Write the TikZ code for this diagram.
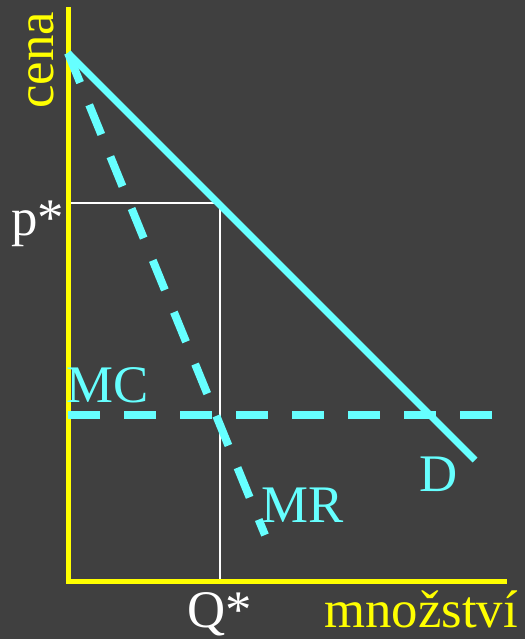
\documentclass[tikz,border=0pt]{standalone}
\usepackage{fontspec}
\setmainfont{Liberation Serif}
\usepackage{tikz}
\usetikzlibrary{
    positioning,
    calc
}
\definecolor{SlateBg}{RGB}{64,64,64}
\definecolor{AxisYellow}{RGB}{255,255,0}
\definecolor{CurveCyan}{RGB}{102,255,255}

\begin{document}
\begin{tikzpicture}[
    x=1bp,
    y=-1bp,
%
    axis/.style={
        draw=AxisYellow,
        line width=5bp
    },
%
    curve/.style={
        draw=CurveCyan,
        line width=7bp
    },
%
    dashcurve/.style={
        draw=CurveCyan,
        line width=8bp,
        dash pattern=on 32bp off 24bp
    },
%
    guide/.style={
        draw=white,
        line width=2bp
    },
%
    lbl/.style={
        inner sep=0pt,
        anchor=base west,
        font=\fontsize{53}{60}\selectfont
    }
]
%
% Canvas: dark background fixes the page size.
%
\fill[SlateBg] (0,0) rectangle (525,639);
\useasboundingbox (0,0) rectangle (525,639);
%
% Key points of the diagram.
%
\coordinate (orig) at (68,581);
\coordinate (ytop) at (68,7);
\coordinate (xend) at (507,581);
\coordinate (dtop) at (68,53);
\coordinate (dend) at (475,460);
\coordinate (mrend) at (265,535);
\coordinate (mcstart) at (68,415);
\coordinate (mcend) at (492,415);
\coordinate (pstar) at (68,203);
\coordinate (opt) at (220,203);
\coordinate (qstar) at (220,581);
%
% Price and quantity guides.
%
\draw[guide] (pstar) -- (opt) -- (qstar);
%
% Axes.
%
\draw[axis] (ytop) -- (orig) -- (xend);
%
% Demand, marginal revenue and marginal cost.
%
\draw[curve] (dtop) -- (dend);
\draw[dashcurve] (dtop) -- (mrend);
\draw[dashcurve] (mcstart) -- (mcend);
%
% Labels.
%
\node[
    lbl,
    text=AxisYellow,
    rotate=90
] (cena) at (53,109) {cena};
\node[
    lbl,
    text=AxisYellow
] (mnoz) at (324,627) {množství};
\node[
    lbl,
    text=white
] (plbl) at (11,235) {p*};
\node[
    lbl,
    text=white
] (qlbl) at (187,627) {Q*};
\node[
    lbl,
    text=CurveCyan
] (mclbl) at (66,402) {MC};
\node[
    lbl,
    text=CurveCyan
] (dlbl) at (419,491) {D};
\node[
    lbl,
    text=CurveCyan
] (mrlbl) at (261,522) {MR};
%
\end{tikzpicture}
\end{document}
